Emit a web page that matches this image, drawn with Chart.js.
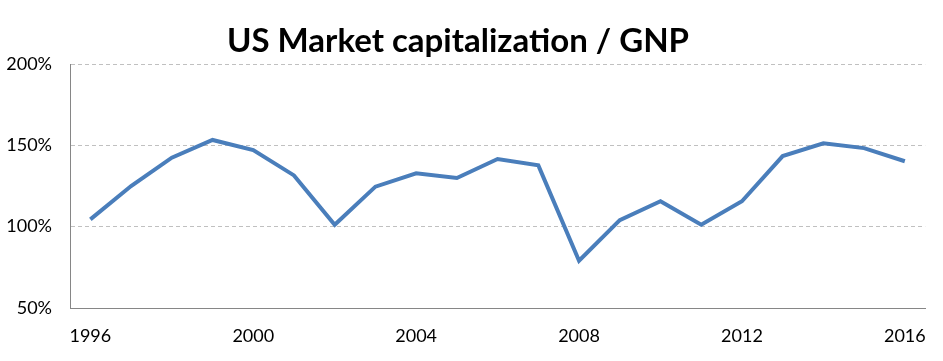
<!DOCTYPE html>
<html>
<head>
<meta charset="utf-8">
<script src="https://cdn.jsdelivr.net/npm/chart.js@4"></script>
<style>
  html, body { margin: 0; padding: 0; background: #fff; }
  #wrap { width: 943px; height: 361px; }
</style>
</head>
<body>
<div id="wrap"><canvas id="capChart" width="943" height="361"></canvas></div>
<script>
const years = ['1996', '1997', '1998', '1999', '2000', '2001', '2002', '2003', '2004', '2005', '2006',
  '2007', '2008', '2009', '2010', '2011', '2012', '2013', '2014', '2015', '2016'];
const capToGnp = [104.5, 125, 142.4, 153.3, 147.1, 131.5, 101.2, 124.6, 132.8, 129.9, 141.6,
  137.7, 79.1, 104, 115.6, 101.2, 115.6, 143.4, 151.2, 148.3, 140.2];
const yTicks = [50, 100, 150, 200];
const chartTitle = 'US Market capitalization / GNP';

const FONT = 'Lato, "Open Sans", sans-serif';

// draws the title by hand so it sits where the original does
const titlePlugin = {
  id: 'ownTitle',
  afterDraw(chart) {
    const ctx = chart.ctx;
    ctx.save();
    ctx.font = 'bold 33px ' + FONT;
    ctx.fillStyle = '#000';
    ctx.textAlign = 'center';
    ctx.textBaseline = 'middle';
    ctx.fillText(chartTitle, 458, 41);
    ctx.restore();
  }
};

new Chart(document.getElementById('capChart'), {
  type: 'line',
  data: {
    labels: years,
    datasets: [{
      label: 'Market cap / GNP',
      data: capToGnp,
      borderColor: '#4a7ebb',
      borderWidth: 4,
      pointRadius: 0,
      tension: 0,
      fill: false
    }]
  },
  options: {
    responsive: false,
    animation: false,
    layout: { padding: { top: 64, right: 12, left: 0, bottom: 0 } },
    plugins: {
      legend: { display: false },
      tooltip: { enabled: false }
    },
    scales: {
      x: {
        offset: true,
        grid: { display: false, drawTicks: false },
        border: { display: true, color: '#868686', width: 1 },
        ticks: {
          autoSkip: false,
          maxRotation: 0,
          padding: 17,
          color: '#000',
          font: { family: FONT, size: 18 },
          callback: function (val, idx) { return idx % 4 === 0 ? years[idx] : ''; }
        },
        afterFit: function (s) { s.height = 53; }
      },
      y: {
        min: 50,
        max: 200,
        afterBuildTicks: function (s) { s.ticks = yTicks.map(v => ({ value: v })); },
        grid: {
          color: function (c) { return c.tick && c.tick.value === 50 ? 'rgba(0,0,0,0)' : '#c0c0c0'; },
          drawTicks: false,
          lineWidth: 1
        },
        border: { display: true, color: '#868686', width: 1, dash: [4, 3] },
        ticks: {
          padding: 18,
          color: '#000',
          font: { family: FONT, size: 18 },
          callback: function (v) { return v + '%'; }
        },
        afterFit: function (s) { s.width = 70; }
      }
    }
  },
  plugins: [titlePlugin]
});
</script>
</body>
</html>
